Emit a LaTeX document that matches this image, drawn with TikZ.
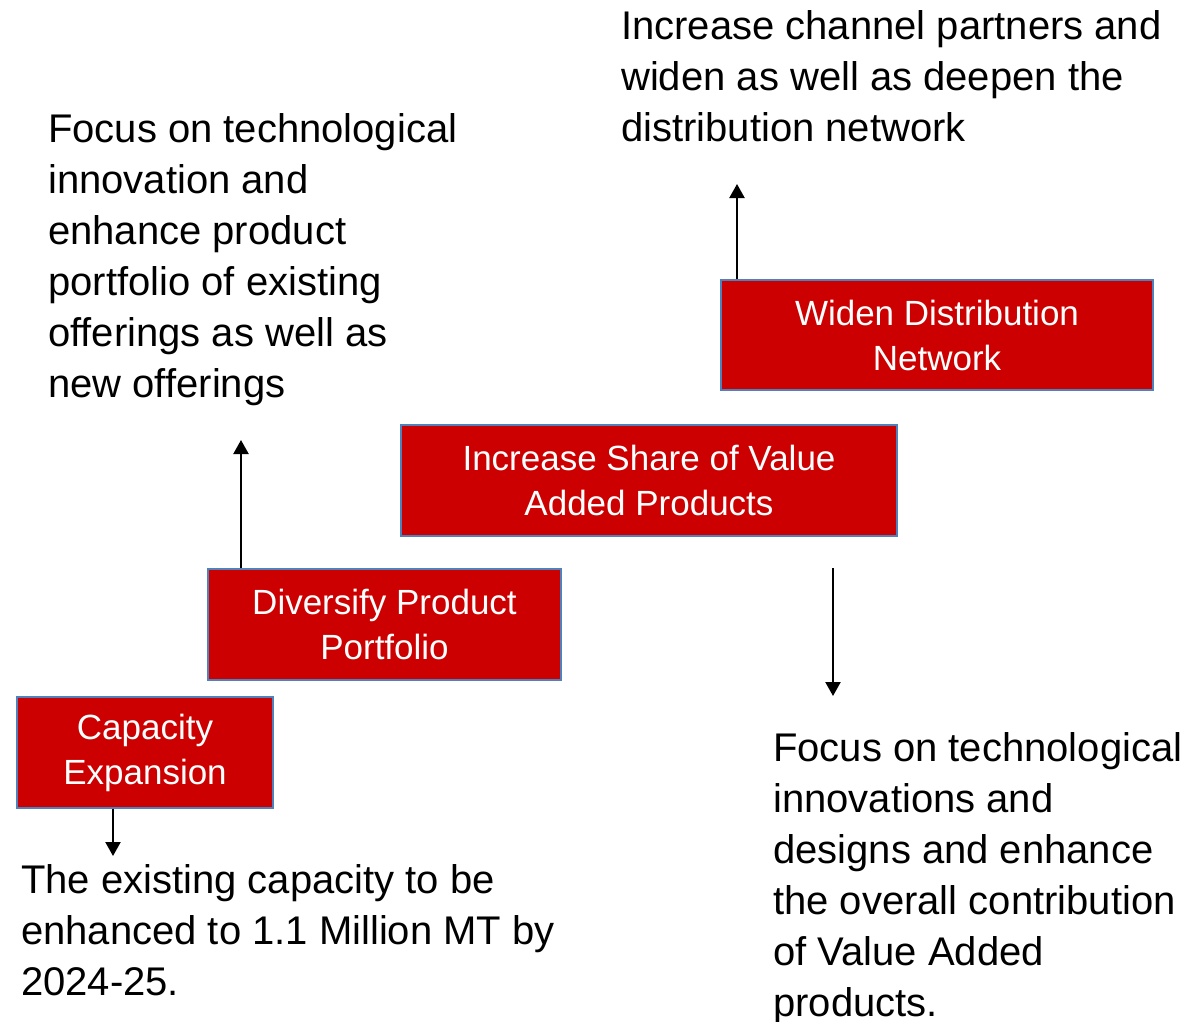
\documentclass[tikz,border=0pt]{standalone}
\usepackage{fontspec}
\setmainfont{Liberation Sans}
\usetikzlibrary{arrows.meta}
\definecolor{boxred}{RGB}{204,0,0}
\definecolor{boxblue}{RGB}{79,129,189}
\tikzset{
  redbox/.style={draw=boxblue, line width=1.3pt, fill=boxred, text=white, align=center,
    font=\fontsize{35}{45}\selectfont, inner sep=0pt},
  bodytext/.style={anchor=base west, align=left, inner sep=0pt,
    font=\fontsize{40}{51}\selectfont},
  arr/.style={line width=2.2pt, -{Triangle[width=15pt,length=14pt]}}
}
\begin{document}
\begin{tikzpicture}[x=1pt,y=-1pt]
\useasboundingbox (0,0) rectangle (1187,1021);
% boxes
\node[redbox, minimum width=256pt, minimum height=111pt] (cap) at (145,752.5) {Capacity\\Expansion};
\node[redbox, minimum width=353pt, minimum height=111pt] (div) at (384.5,624.5) {Diversify Product\\Portfolio};
\node[redbox, minimum width=496pt, minimum height=111pt] (inc) at (649,480.5) {Increase Share of Value\\Added Products};
\node[redbox, minimum width=432pt, minimum height=110pt] (wid) at (937,335) {Widen Distribution\\Network};
% texts (anchor = baseline of last line)
\node[bodytext] (t1) at (48,397) {Focus on technological\\innovation and\\enhance product\\portfolio of existing\\offerings as well as\\new offerings};
\node[bodytext] (t2) at (621,141) {Increase channel partners and\\widen as well as deepen the\\distribution network};
\node[bodytext] (t3) at (21,995) {The existing capacity to be\\enhanced to 1.1 Million MT by\\2024-25.};
\node[bodytext] (t4) at (773,1016) {Focus on technological\\innovations and\\designs and enhance\\the overall contribution\\of Value Added\\products.};
% arrow ends
\coordinate (capend) at (113,856);
\coordinate (divend) at (241,440);
\coordinate (incstart) at (833,568);
\coordinate (incend) at (833,696);
\coordinate (widend) at (737,184);
\draw[arr] (cap.south -| capend) -- (capend);
\draw[arr] (div.north -| divend) -- (divend);
\draw[arr] (incstart) -- (incend);
\draw[arr] (wid.north -| widend) -- (widend);
\end{tikzpicture}
\end{document}
